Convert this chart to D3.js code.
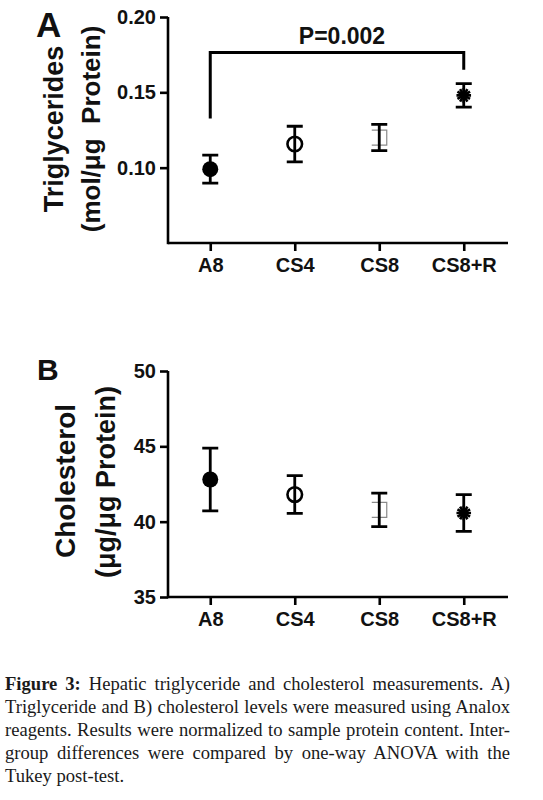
<!DOCTYPE html>
<html>
<head>
<meta charset="utf-8">
<script src="https://cdn.jsdelivr.net/npm/d3@7"></script>
<style>
  html, body { margin: 0; padding: 0; background: #fff; }
  #wrap { position: relative; width: 543px; height: 800px; overflow: hidden; }
  svg { position: absolute; left: 0; top: 0; }
  .cap { position: absolute; left: 5px; width: 505px; top: 672px;
         font-family: "Liberation Serif", "DejaVu Serif", serif; font-size: 18.6px;
         line-height: 23px; color: #1a1a1a; }
  .cap div { text-align: justify; text-align-last: justify; white-space: nowrap; }
  .cap div.last { text-align: left; text-align-last: left; }
</style>
</head>
<body>
<div id="wrap"></div>
<script>
// ---------------- data ----------------
const categories = ["A8", "CS4", "CS8", "CS8+R"];
const markerTypes = ["filledCircle", "openCircle", "openSquare", "asterisk"];

const trigMean = [0.099, 0.1157, 0.120, 0.148];
const trigErr  = [0.0093, 0.0118, 0.0087, 0.0078];
const trigTicks = [0.10, 0.15, 0.20];
const trigDomain = [0.05, 0.20];

const cholMean = [42.8, 41.8, 40.78, 40.58];
const cholErr  = [2.08, 1.25, 1.11, 1.22];
const cholTicks = [35, 40, 45, 50];
const cholDomain = [35, 50];

// significance bracket (A): from A8 to CS8+R
const bracketGroups = ["A8", "CS8+R"];
const bracketLevels = [0.1765, 0.1327, 0.165]; // top, left leg end, right leg end
const bracketLabel = "P=0.002";

const captionLines = [
  ["Figure 3:", " Hepatic triglyceride and cholesterol measurements. A)"],
  ["", "Triglyceride and B) cholesterol levels were measured using Analox"],
  ["", "reagents. Results were normalized to sample protein content. Inter-"],
  ["", "group differences were compared by one-way ANOVA with the"],
  ["", "Tukey post-test."]
];

// ---------------- drawing ----------------
const W = 543, H = 800;
const wrap = d3.select("#wrap");
const svg = wrap.append("svg").attr("width", W).attr("height", H);
const FONT = "'Liberation Sans', Arial, Helvetica, sans-serif";

function panel(opts) {
  const g = svg.append("g");
  const x = d3.scalePoint().domain(categories).range([168, 506]).padding(0.5);
  const y = d3.scaleLinear().domain(opts.domain).range(opts.yRange);

  // axes
  const yAxis = d3.axisLeft(y).tickValues(opts.ticks).tickFormat(opts.fmt)
    .tickSize(8).tickSizeOuter(0).tickPadding(4);
  const gy = g.append("g").attr("transform", "translate(168,0)").call(yAxis);
  const xAxis = d3.axisBottom(x).tickSize(8).tickSizeOuter(0).tickPadding(7);
  const gx = g.append("g").attr("transform", `translate(0,${opts.yRange[0]})`).call(xAxis);
  gx.select(".domain").attr("d", `M168,0H508`);
  gy.select(".domain").attr("d", `M0,${opts.yRange[0] + 1.2}V${opts.yRange[1]}`);
  [gx, gy].forEach(a => {
    a.selectAll(".domain, .tick line").attr("stroke", "#000").attr("stroke-width", 2.6);
    a.selectAll("text").attr("font-family", FONT).attr("font-weight", "bold")
      .attr("font-size", 20).attr("fill", "#111");
  });

  // error bars
  const data = categories.map((c, i) => ({ c, m: opts.mean[i], e: opts.err[i], t: markerTypes[i] }));
  const eb = g.append("g").attr("stroke", "#000").attr("stroke-width", 2.8).attr("fill", "none");
  data.forEach(d => {
    const cx = x(d.c);
    if (d.t === "openSquare") {
      const s = 7.5;
      g.insert("path", ":first-child")
        .attr("d", `M${cx - s},${y(d.m) - s}H${cx + s}V${y(d.m) + s}H${cx - s}`)
        .attr("fill", "none").attr("stroke", "#8a8a8a").attr("stroke-width", 1.2);
    }
    eb.append("path").attr("d",
      `M${cx},${y(d.m + d.e)}V${y(d.m - d.e)}` +
      `M${cx - 8},${y(d.m + d.e)}H${cx + 8}` +
      `M${cx - 8},${y(d.m - d.e)}H${cx + 8}`);
  });

  // markers
  data.forEach(d => {
    const cx = x(d.c), cy = y(d.m);
    if (d.t === "filledCircle") {
      g.append("circle").attr("cx", cx).attr("cy", cy).attr("r", 8).attr("fill", "#000");
    } else if (d.t === "openCircle") {
      g.append("circle").attr("cx", cx).attr("cy", cy).attr("r", 7.3)
        .attr("fill", "none").attr("stroke", "#000").attr("stroke-width", 2.6);
    } else if (d.t === "asterisk") {
      g.append("circle").attr("cx", cx).attr("cy", cy).attr("r", 3.6).attr("fill", "#000");
      [0, 30].forEach(rot => {
        g.append("path").attr("transform", `translate(${cx},${cy}) rotate(${rot})`)
          .attr("d", d3.symbol(d3.symbolAsterisk, 150)())
          .attr("stroke", "#000").attr("stroke-width", 2.6).attr("fill", "none");
      });
    }
  });

  // panel letter
  svg.append("text").attr("x", opts.letterX).attr("y", opts.letterY)
    .attr("font-family", FONT).attr("font-weight", "bold").attr("font-size", opts.letterSize)
    .attr("fill", "#111").text(opts.letter);

  // y titles
  opts.titles.forEach(t => {
    svg.append("text")
      .attr("transform", `translate(${t.x},${t.y}) rotate(-90)`)
      .attr("text-anchor", "middle").style("white-space", "pre")
      .attr("font-family", FONT).attr("font-weight", "bold").attr("font-size", t.size)
      .attr("fill", "#111").text(t.text);
  });
  return { g, x, y };
}

const A = panel({
  domain: trigDomain, yRange: [243, 17], ticks: trigTicks, fmt: d3.format(".2f"),
  mean: trigMean, err: trigErr, letter: "A", letterX: 36, letterY: 37, letterSize: 35,
  titles: [
    { text: "Triglycerides", x: 63, y: 129, size: 27 },
    { text: "(mol/\u03bcg  Protein)", x: 100, y: 129, size: 26 }
  ]
});

// bracket
const bx0 = A.x(bracketGroups[0]), bx1 = A.x(bracketGroups[1]);
A.g.append("path")
  .attr("d", `M${bx0},${A.y(bracketLevels[1])}V${A.y(bracketLevels[0])}H${bx1}V${A.y(bracketLevels[2])}`)
  .attr("fill", "none").attr("stroke", "#000").attr("stroke-width", 3);
A.g.append("text").attr("x", 342).attr("y", A.y(bracketLevels[0]) - 8)
  .attr("text-anchor", "middle").attr("font-family", FONT).attr("font-weight", "bold")
  .attr("font-size", 23).attr("fill", "#111").text(bracketLabel);

panel({
  domain: cholDomain, yRange: [597, 371], ticks: cholTicks, fmt: d3.format("d"),
  mean: cholMean, err: cholErr, letter: "B", letterX: 37, letterY: 380, letterSize: 30,
  titles: [
    { text: "Cholesterol", x: 75, y: 481, size: 28 },
    { text: "(\u03bcg/\u03bcg Protein)", x: 115, y: 482, size: 27 }
  ]
});

// caption
const cap = wrap.append("div").attr("class", "cap");
captionLines.forEach((l, i) => {
  const div = cap.append("div").attr("class", i === captionLines.length - 1 ? "last" : "");
  if (l[0]) div.append("b").text(l[0]);
  div.append("span").text(l[1]);
});
</script>
</body>
</html>
